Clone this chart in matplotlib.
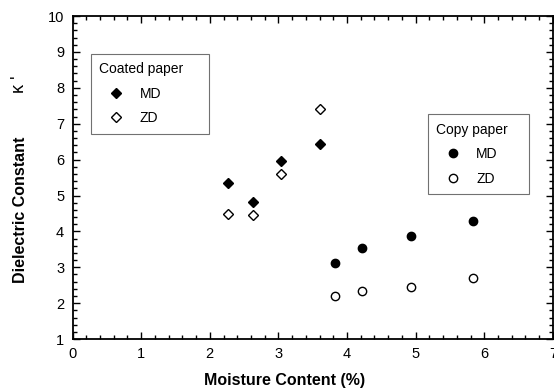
import matplotlib.pyplot as plt
from matplotlib.ticker import MultipleLocator

plt.rcParams['font.family'] = 'Liberation Sans'
plt.rcParams['font.size'] = 10

# coated paper
coated_x = [2.26, 2.63, 3.04, 3.61]
coated_md = [5.35, 4.82, 5.97, 6.43]
coated_zd = [4.48, 4.47, 5.59, 7.40]

# copy paper
copy_x = [3.83, 4.22, 4.93, 5.84]
copy_md = [3.11, 3.54, 3.88, 4.29]
copy_zd = [2.20, 2.33, 2.46, 2.69]

fig = plt.figure(figsize=(5.54, 3.92), dpi=100)
ax = fig.add_axes([0.131, 0.135, 0.867, 0.824])

l1, = ax.plot(coated_x, coated_md, 'D', mfc='k', mec='k', ms=5, mew=1)
l2, = ax.plot(coated_x, coated_zd, 'D', mfc='w', mec='k', ms=5, mew=1)
l3, = ax.plot(copy_x, copy_md, 'o', mfc='k', mec='k', ms=6, mew=1)
l4, = ax.plot(copy_x, copy_zd, 'o', mfc='w', mec='k', ms=6, mew=1)

ax.set_xlim(0, 7)
ax.set_ylim(1, 10)
ax.xaxis.set_major_locator(MultipleLocator(1))
ax.xaxis.set_minor_locator(MultipleLocator(0.2))
ax.yaxis.set_major_locator(MultipleLocator(1))
ax.yaxis.set_minor_locator(MultipleLocator(0.2))
ax.tick_params(which='both', direction='in', top=True, right=True, width=1)
ax.tick_params(which='major', length=5, labelsize=10.5, pad=6)
ax.tick_params(which='minor', length=3)
for s in ax.spines.values():
    s.set_linewidth(1.3)


def make_legend(handles, title, box):
    leg = ax.legend(handles, ['MD', 'ZD'], title=title, loc='upper left',
                    bbox_to_anchor=box, mode='expand', fancybox=False,
                    edgecolor='0.3', fontsize=10, title_fontsize=10,
                    handlelength=2.4, handletextpad=0.5, borderpad=0.6,
                    labelspacing=0.75, borderaxespad=0)
    leg._legend_box.align = 'left'
    leg.get_frame().set_linewidth(0.8)
    return leg


leg1 = make_legend([l1, l2], 'Coated paper', (0.0385, 0.6316, 0.2456, 0.2508))
ax.add_artist(leg1)
leg2 = make_legend([l3, l4], 'Copy paper', (0.7392, 0.4396, 0.2114, 0.2561))

fig.text(285 / 554, 1 - 381 / 392, 'Moisture Content (%)', ha='center', va='center',
         fontsize=11.5, fontweight='bold')
fig.text(21 / 554, 1 - 210 / 392, 'Dielectric Constant', ha='center', va='center',
         rotation=90, fontsize=11.5, fontweight='bold')
fig.text(20 / 554, 1 - 84 / 392, "κ '", ha='center', va='center',
         rotation=90, fontsize=13)

fig.savefig('out.png', dpi=100)
